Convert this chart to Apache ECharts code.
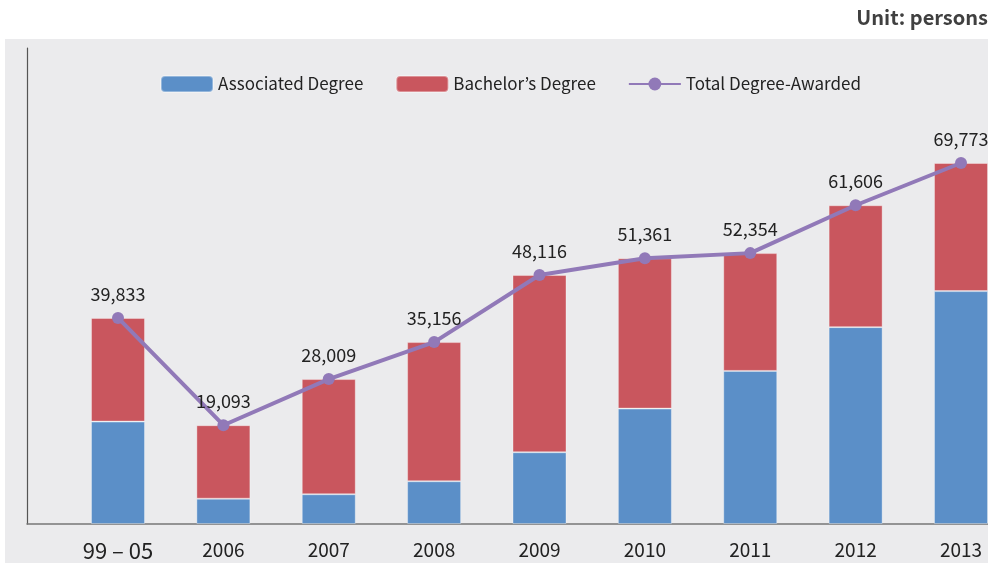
<!DOCTYPE html>
<html>
<head>
<meta charset="utf-8">
<title>Degrees Awarded</title>
<script src="https://cdn.jsdelivr.net/npm/echarts@6/dist/echarts.min.js"></script>
<style>
  html, body { margin: 0; padding: 0; background: #fff; }
  #main { width: 995px; height: 563px; }
</style>
</head>
<body>
<div id="main"></div>
<script>
// data
var years = ['99 – 05', '2006', '2007', '2008', '2009', '2010', '2011', '2012', '2013'];
var associated = [19790, 4890, 5750, 8260, 13870, 22300, 29590, 38050, 45010];
var bachelor = [20043, 14203, 22259, 26896, 34246, 29061, 22764, 23556, 24763];
var total = [39833, 19093, 28009, 35156, 48116, 51361, 52354, 61606, 69773];

var font = '"Noto Sans CJK KR", "Noto Sans", sans-serif';
var myChart = echarts.init(document.getElementById('main'));

var option = {
    animation: false,
    textStyle: { fontFamily: font },
    title: {
        text: 'Unit: persons',
        right: 2,
        top: 2,
        textStyle: { fontSize: 20, fontWeight: 'bold', color: '#404040', fontFamily: font }
    },
    graphic: [
        // gray panel behind the plot
        { type: 'rect', z: -10, shape: { x: 5, y: 39, width: 983, height: 524 }, style: { fill: '#EBEBED' } },
        // white strip on the right, cuts the last bar/label like the original
        { type: 'rect', z: 100, shape: { x: 988, y: 0, width: 10, height: 563 }, style: { fill: '#ffffff' } }
    ],
    legend: {
        left: 155,
        top: 70,
        itemWidth: 52,
        itemHeight: 16,
        itemGap: 32,
        textStyle: { fontSize: 17, color: '#222', fontFamily: font },
        data: ['Associated Degree', "Bachelor’s Degree", 'Total Degree-Awarded']
    },
    grid: [
        // categories sit on the ticks: first at x=118, last at x=961
        { left: 118, right: 34, top: 48, bottom: 39 },
        { left: 27, right: 7, top: 48, bottom: 39 }
    ],
    xAxis: [
        {
            type: 'category',
            gridIndex: 0,
            boundaryGap: false,
            data: years,
            axisLine: { show: false },
            axisTick: { show: false },
            axisLabel: {
                interval: 0,
                margin: 16,
                fontSize: 19,
                color: '#222',
                formatter: function (v, i) { return i === 0 ? '{big|' + v + '}' : v; },
                rich: { big: { fontSize: 22, color: '#222', fontFamily: font } }
            }
        },
        {
            type: 'value', gridIndex: 1, min: 0, max: 1,
            axisLine: { show: true, lineStyle: { color: '#777', width: 1.5 } },
            axisTick: { show: false }, axisLabel: { show: false }, splitLine: { show: false }
        }
    ],
    yAxis: [
        { type: 'value', gridIndex: 0, min: 0, max: 92000, show: false, splitLine: { show: false } },
        {
            type: 'value', gridIndex: 1, min: 0, max: 1,
            axisLine: { show: true, lineStyle: { color: '#555', width: 1.2 } },
            axisTick: { show: false }, axisLabel: { show: false }, splitLine: { show: false }
        }
    ],
    series: [
        {
            name: 'Associated Degree',
            type: 'bar',
            stack: 'deg',
            barWidth: 54,
            clip: false,
            data: associated,
            itemStyle: { color: '#5B8FC8', borderColor: 'rgba(255,255,255,0.35)', borderWidth: 1 }
        },
        {
            name: "Bachelor’s Degree",
            type: 'bar',
            stack: 'deg',
            barWidth: 54,
            clip: false,
            data: bachelor,
            itemStyle: { color: '#C9565E', borderColor: 'rgba(255,255,255,0.35)', borderWidth: 1 }
        },
        {
            name: 'Total Degree-Awarded',
            type: 'line',
            data: total,
            clip: false,
            symbol: 'circle',
            symbolSize: 12,
            z: 5,
            lineStyle: { color: '#9179B8', width: 4 },
            itemStyle: { color: '#9179B8' },
            label: {
                show: true,
                position: 'top',
                distance: 9,
                fontSize: 18,
                color: '#222',
                fontFamily: font,
                formatter: function (p) { return p.value.toLocaleString('en-US'); }
            }
        }
    ]
};
myChart.setOption(option);
</script>
</body>
</html>
